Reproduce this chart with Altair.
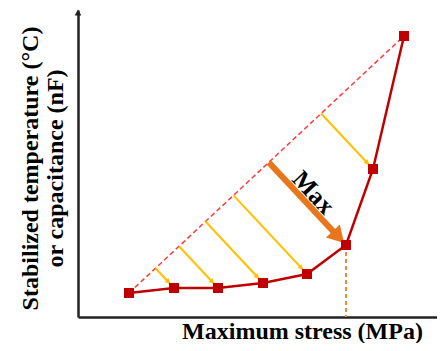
import math
import altair as alt
import pandas as pd

# values (arbitrary units, no tick labels)
stress = [51, 96, 140, 185, 229, 268, 295, 326]
response = [24, 29, 29, 34, 43, 72, 148, 281]
yellow_idx = [1, 2, 3, 4, 6]
max_idx = 5
x_title = "Maximum stress (MPa)"
y_title = ["Stabilized temperature (°C)", "or capacitance (nF)"]
max_label = "Max"

W, H = 359, 307
FONT = "Liberation Serif"

ax_, ay_ = stress[0], response[0]
bx_, by_ = stress[-1], response[-1]
dx, dy = bx_ - ax_, by_ - ay_
L2 = dx * dx + dy * dy


def foot(i):
    px, py = stress[i], response[i]
    t = ((px - ax_) * dx + (py - ay_) * dy) / L2
    return ax_ + t * dx, ay_ + t * dy


def unit(i):
    fx, fy = foot(i)
    px, py = stress[i], response[i]
    l = math.hypot(px - fx, py - fy)
    return (px - fx) / l, (py - fy) / l


def ang(ux, uy):
    return math.degrees(math.atan2(ux, uy)) % 360


pts = pd.DataFrame({"x": stress, "y": response})
diag = pd.DataFrame({"x": [ax_, bx_], "y": [ay_, by_]})

yrows, yheads = [], []
for i in yellow_idx:
    fx, fy = foot(i)
    ux, uy = unit(i)
    yrows.append({"x": fx, "y": fy, "x2": stress[i], "y2": response[i]})
    yheads.append({"x": stress[i] - 8.5 * ux, "y": response[i] - 8.5 * uy, "a": ang(ux, uy)})
yel = pd.DataFrame(yrows)
yel_h = pd.DataFrame(yheads)

fx5, fy5 = foot(max_idx)
ux5, uy5 = unit(max_idx)
px5, py5 = stress[max_idx], response[max_idx]
shaft = pd.DataFrame([{"x": fx5, "y": fy5, "x2": px5 - 17 * ux5, "y2": py5 - 17 * uy5}])
head = pd.DataFrame([{"x": px5 - 11 * ux5, "y": py5 - 11 * uy5, "a": ang(ux5, uy5)}])
mx, my = (fx5 + px5) / 2, (fy5 + py5) / 2
nx, ny = -uy5, ux5
lab = pd.DataFrame([{"x": mx + 12 * nx - 4 * ux5, "y": my + 12 * ny - 4 * uy5, "t": max_label}])
text_angle = round(math.degrees(math.atan2(-uy5, ux5)), 1)

vline = pd.DataFrame([{"x": px5, "y": py5, "y2": 0}])
yarrow = pd.DataFrame([{"x": 0, "y": H - 2.5, "a": 0}])

xs = alt.Scale(domain=[0, W], nice=False, zero=False)
ys = alt.Scale(domain=[0, H], nice=False, zero=False)
xaxis = alt.Axis(title=x_title, domain=True, ticks=False, labels=False, grid=False,
                 domainColor="#222", domainWidth=2.5, titleFont=FONT, titleFontSize=24,
                 titleFontWeight="bold", titleColor="black", titleX=224, titleY=21,
                 titleAlign="center", titleBaseline="alphabetic")
yaxis = alt.Axis(title=y_title, domain=True, ticks=False, labels=False, grid=False,
                 domainColor="#222", domainWidth=2.5, titleFont=FONT, titleFontSize=24,
                 titleFontWeight="bold", titleColor="black", titleAngle=270,
                 titleX=-41, titleY=158, titleAlign="center", titleBaseline="alphabetic",
                 titleLineHeight=25)


def X(f="x"):
    return alt.X(f + ":Q", scale=xs, axis=xaxis)


def Y(f="y"):
    return alt.Y(f + ":Q", scale=ys, axis=yaxis)


dashed = alt.Chart(diag).mark_line(color="#FF3B3B", strokeWidth=1.5, strokeDash=[5, 3]).encode(
    x=X(), y=Y())
yellow = alt.Chart(yel).mark_rule(color="#FFC000", strokeWidth=2).encode(
    x=X(), y=Y(), x2="x2:Q", y2="y2:Q")
yellow_heads = alt.Chart(yel_h).mark_point(shape="triangle-up", filled=True, color="#FFC000",
                                           size=32, opacity=1).encode(
    x=X(), y=Y(), angle=alt.Angle("a:Q", scale=None))
vdash = alt.Chart(vline).mark_rule(color="#F08A3A", strokeWidth=2, strokeDash=[4, 3]).encode(
    x=X(), y=Y(), y2="y2:Q")
curve = alt.Chart(pts).mark_line(color="#C00000", strokeWidth=2.5).encode(x=X(), y=Y())
squares = alt.Chart(pts).mark_square(color="#C00000", size=100, opacity=1).encode(x=X(), y=Y())
oshaft = alt.Chart(shaft).mark_rule(color="#E8761C", strokeWidth=6, strokeCap="butt").encode(
    x=X(), y=Y(), x2="x2:Q", y2="y2:Q")
ohead = alt.Chart(head).mark_point(shape="triangle-up", filled=True, color="#E8761C",
                                   size=360, opacity=1).encode(
    x=X(), y=Y(), angle=alt.Angle("a:Q", scale=None))
label = alt.Chart(lab).mark_text(font=FONT, fontSize=25, fontWeight="bold", color="black",
                                 angle=text_angle, align="center", baseline="middle").encode(
    x=X(), y=Y(), text="t:N")
arrow_up = alt.Chart(yarrow).mark_point(shape="triangle-up", filled=True, color="#222",
                                        size=45, opacity=1).encode(
    x=X(), y=Y(), angle=alt.Angle("a:Q", scale=None))

chart = alt.layer(dashed, yellow, yellow_heads, vdash, curve, oshaft, ohead, squares, label,
                  arrow_up).properties(
    width=W, height=H,
    autosize=alt.AutoSizeParams(type="none"),
    padding={"left": 70, "top": 2, "right": 0, "bottom": 26},
    background="white",
).configure_view(stroke=None)

chart.save("out.html", embed_options={"renderer": "svg", "actions": False})
